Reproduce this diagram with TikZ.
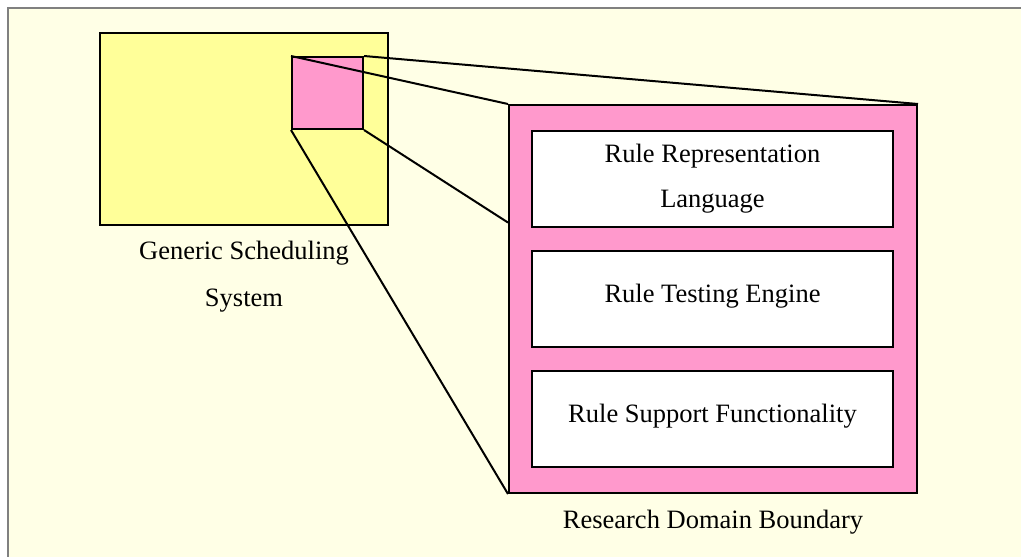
\documentclass[tikz,border=0pt]{standalone}
\usepackage{fontspec}
\setmainfont{Liberation Serif}
\usetikzlibrary{positioning,calc}
\definecolor{paper}{HTML}{FFFFE6}
\definecolor{sysyellow}{HTML}{FFFF99}
\definecolor{rulepink}{HTML}{FF99CC}

\begin{document}
\begin{tikzpicture}[x=1pt, y=-1pt, line width=2pt, node distance=22pt,
  sysbox/.style={draw,fill=sysyellow,minimum width=288pt,minimum height=192pt,inner sep=0pt},
  zoombox/.style={draw,fill=rulepink,minimum width=71pt,minimum height=72pt,inner sep=0pt},
  domainbox/.style={draw,fill=rulepink,minimum width=408pt,minimum height=388pt,inner sep=0pt},
  partbox/.style={draw,fill=white,minimum width=361pt,minimum height=96pt,inner sep=0pt,align=center,font=\fontsize{26.5}{45}\selectfont},
  oneline/.style={text depth=11pt},
  caption/.style={inner sep=0pt,align=center,font=\fontsize{26.5}{47}\selectfont}]
  % page frame
  \useasboundingbox (0,0) rectangle (1021,557);
  \fill[white] (0,0) rectangle (1021,557);
  \fill[paper] (9,9) rectangle (1021,557);
  \draw[gray] (8,557) -- (8,8) -- (1021,8);
  % scheduling system with the zoomed part
  \node[sysbox] (gss) at (244,129) {};
  \node[caption, below=14pt of gss] (gsslabel) {Generic Scheduling\\System};
  \node[zoombox] (zoom) at (327.5,93) {};
  % research domain
  \node[domainbox] (rdb) at (713,299) {};
  \node[caption, below=15pt of rdb] (rdblabel) {Research Domain Boundary};
  \node[partbox] (rrl) at (712.5,178.5) {Rule Representation\\Language};
  \node[partbox, oneline, below=of rrl] (rte) {Rule Testing Engine};
  \node[partbox, oneline, below=of rte] (rsf) {Rule Support Functionality};
  % projection lines
  \coordinate (rdbjoin) at ($(rdb.north west)!0.304!(rdb.south west)$);
  \draw (zoom.north west) -- (rdb.north west);
  \draw (zoom.north east) -- (rdb.north east);
  \draw (zoom.south east) -- (rdbjoin);
  \draw (zoom.south west) -- (rdb.south west);
\end{tikzpicture}
\end{document}
